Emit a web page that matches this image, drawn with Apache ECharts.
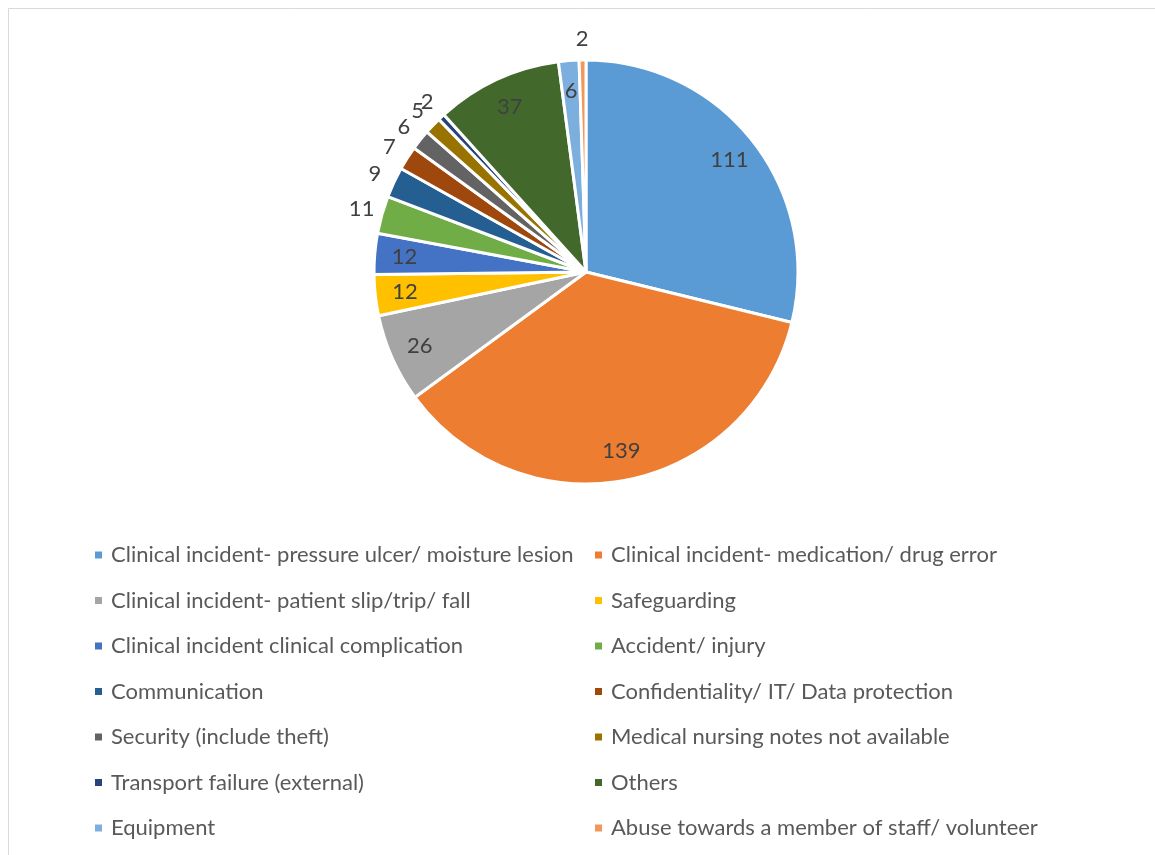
<!DOCTYPE html>
<html>
<head>
<meta charset="utf-8">
<script src="https://cdn.jsdelivr.net/npm/echarts@6/dist/echarts.min.js"></script>
<style>
  html, body { margin: 0; padding: 0; background: #fff; }
  #chart { width: 1155px; height: 855px; }
</style>
</head>
<body>
<div id="chart"></div>
<script>
const categories = [
  'Clinical incident- pressure ulcer/ moisture lesion',
  'Clinical incident- medication/ drug error',
  'Clinical incident- patient slip/trip/ fall',
  'Safeguarding',
  'Clinical incident clinical complication',
  'Accident/ injury',
  'Communication',
  'Confidentiality/ IT/ Data protection',
  'Security (include theft)',
  'Medical nursing notes not available',
  'Transport failure (external)',
  'Others',
  'Equipment',
  'Abuse towards a member of staff/ volunteer'
]
const counts = [111, 139, 26, 12, 12, 11, 9, 7, 6, 5, 2, 37, 6, 2]
const colors = ['#5B9BD5', '#ED7D31', '#A5A5A5', '#FFC000', '#4472C4', '#70AD47',
  '#255E91', '#9E480E', '#636363', '#997300', '#264478', '#43682B', '#7CAFDD', '#F1975A']

// small slices get their label just outside the pie (layout only)
const outerLabels = ['Accident/ injury', 'Communication', 'Confidentiality/ IT/ Data protection',
  'Security (include theft)', 'Medical nursing notes not available',
  'Transport failure (external)', 'Abuse towards a member of staff/ volunteer']

const R = 212
const center = [586, 272]
const font = 'Lato, "Liberation Sans", sans-serif'

const chart = echarts.init(document.getElementById('chart'))

// invisible ring used only to place labels at the middle of [inner, outer]
const labelRing = (inner, outer, pick) => ({
  type: 'pie',
  center: center,
  radius: [inner, outer],
  startAngle: 90,
  silent: true,
  animation: false,
  avoidLabelOverlap: false,
  labelLayout: { hideOverlap: false },
  itemStyle: { color: 'transparent', borderWidth: 0 },
  labelLine: { show: false },
  emphasis: { disabled: true },
  data: categories.map((name, i) => ({
    name: name,
    value: counts[i],
    label: {
      show: pick(name),
      position: 'inside',
      color: '#404040',
      fontSize: 22,
      fontFamily: font,
      formatter: '{c}'
    }
  }))
})

const legendFor = (parity, left) => ({
  orient: 'vertical',
  left: left,
  top: 544,
  padding: 0,
  icon: 'rect',
  itemWidth: 9,
  itemHeight: 9,
  itemGap: 23.5,
  selectedMode: false,
  textStyle: { color: '#595959', fontSize: 22, fontFamily: font, lineHeight: 22, padding: [0, 0, 0, 3] },
  data: categories.filter((_, i) => i % 2 === parity)
})

chart.setOption({
  color: colors,
  backgroundColor: '#fff',
  graphic: [{
    type: 'rect',
    shape: { x: 8.5, y: 8.5, width: 1200, height: 900 },
    style: { fill: 'none', stroke: '#D9D9D9', lineWidth: 1 },
    silent: true
  }],
  legend: [legendFor(0, 93), legendFor(1, 593)],
  series: [
    {
      type: 'pie',
      center: center,
      radius: [0, R],
      startAngle: 90,
      animation: false,
      itemStyle: { borderColor: '#fff', borderWidth: 3 },
      label: { show: false },
      labelLine: { show: false },
      data: categories.map((name, i) => ({ name: name, value: counts[i] }))
    },
    labelRing(R * 0.69, R, name => !outerLabels.includes(name)),
    labelRing(R, R * 1.17, name => outerLabels.includes(name))
  ]
})
</script>
</body>
</html>
